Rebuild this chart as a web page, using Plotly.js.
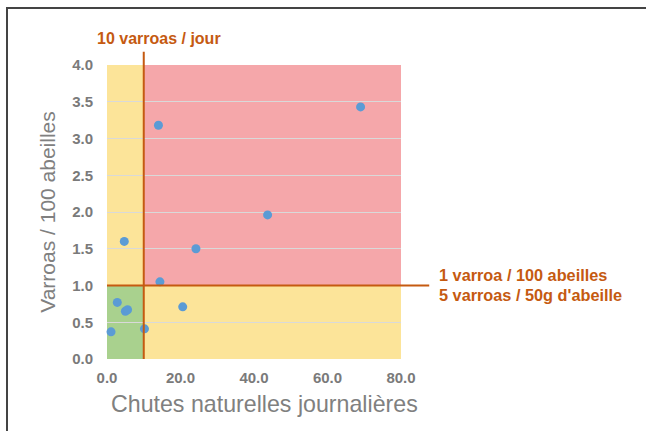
<!DOCTYPE html>
<html>
<head>
<meta charset="utf-8">
<script src="https://cdn.plot.ly/plotly-3.0.1.min.js"></script>
<style>
  html, body { margin: 0; padding: 0; background: #fff; }
  #wrap { position: relative; width: 646px; height: 431px; overflow: hidden; }
  #chart { position: absolute; left: 0; top: 0; width: 646px; height: 431px; }
  #frame { position: absolute; left: 6px; top: 7px; width: 700px; height: 500px;
           border-left: 2px solid #444; border-top: 2px solid #444; pointer-events: none; }
</style>
</head>
<body>
<div id="wrap">
  <div id="chart"></div>
  <div id="frame"></div>
</div>
<script>
// Data
const chutesJournalieres = [69.0, 14.0, 43.7, 4.7, 24.2, 14.4, 2.8, 20.6, 5.0, 5.6, 1.1, 10.2];
const varroasPour100 = [3.43, 3.18, 1.96, 1.60, 1.50, 1.05, 0.77, 0.71, 0.65, 0.67, 0.37, 0.41];

// Thresholds and axis extents
const seuilChutes = 10;      // 10 varroas / jour
const seuilVarroas = 1;      // 1 varroa / 100 abeilles
const xRange = [0, 80];
const yRange = [0, 4];

const labelSeuilX = "10 varroas / jour";
const labelSeuilY1 = "1 varroa / 100 abeilles";
const labelSeuilY2 = "5 varroas / 50g d'abeille";
const xTitle = "Chutes naturelles journalières";
const yTitle = "Varroas / 100 abeilles";

const RED = '#F5A7AA', YEL = '#FCE499', GRN = '#A9D18E', LINE = '#C55A11';

function rect(x0, x1, y0, y1, c) {
  return { type: 'rect', xref: 'x', yref: 'y', x0: x0, x1: x1, y0: y0, y1: y1,
           fillcolor: c, line: { width: 0 }, layer: 'below' };
}

const trace = {
  type: 'scatter', mode: 'markers',
  x: chutesJournalieres, y: varroasPour100,
  marker: { color: '#5B9BD5', size: 9, line: { width: 0 } },
  hoverinfo: 'x+y', cliponaxis: false
};

const tickFont = { family: 'Liberation Sans, Arial, sans-serif', size: 15, color: '#7a7a7a', weight: 'bold' };
const titleFont = { family: 'Liberation Sans, Arial, sans-serif', size: 21, color: '#808080' };
const xTitleFont = { family: 'Liberation Sans, Arial, sans-serif', size: 23.2, color: '#808080' };
const annFont = { family: 'Liberation Sans, Arial, sans-serif', size: 16, color: LINE, weight: 'bold' };
const annFont2 = { family: 'Liberation Sans, Arial, sans-serif', size: 16.3, color: LINE, weight: 'bold' };

const layout = {
  width: 646, height: 431,
  margin: { l: 107, r: 245, t: 65, b: 72 },
  paper_bgcolor: '#fff', plot_bgcolor: 'rgba(0,0,0,0)',
  showlegend: false,
  xaxis: {
    range: xRange, dtick: 20, tick0: 0, tickformat: '.1f',
    showgrid: false, zeroline: false, showline: false, ticks: '',
    tickfont: tickFont, ticklabelstandoff: 8,
    automargin: false, fixedrange: true
  },
  yaxis: {
    range: yRange, dtick: 0.5, tick0: 0, tickformat: '.1f',
    showgrid: true, gridcolor: '#D9D9D9', gridwidth: 1,
    zeroline: false, showline: false, ticks: '',
    tickfont: tickFont, ticklabelstandoff: 13,
    title: { text: yTitle, font: titleFont, standoff: 10 },
    automargin: false, fixedrange: true
  },
  shapes: [
    rect(xRange[0], seuilChutes, yRange[0], seuilVarroas, GRN),
    rect(xRange[0], seuilChutes, seuilVarroas, yRange[1], YEL),
    rect(seuilChutes, xRange[1], yRange[0], seuilVarroas, YEL),
    rect(seuilChutes, xRange[1], seuilVarroas, yRange[1], RED),
    { type: 'line', xref: 'x', yref: 'paper', x0: seuilChutes, x1: seuilChutes, y0: 0, y1: 1.045,
      line: { color: LINE, width: 2 }, layer: 'above' },
    { type: 'line', xref: 'paper', yref: 'y', x0: 0, x1: 1.096, y0: seuilVarroas, y1: seuilVarroas,
      line: { color: LINE, width: 2 }, layer: 'above' }
  ],
  annotations: [
    { xref: 'paper', yref: 'paper', x: 0.536, y: -0.152, text: xTitle, showarrow: false,
      xanchor: 'center', yanchor: 'middle', font: xTitleFont },
    { xref: 'paper', yref: 'paper', x: 0.178, y: 1.09, text: labelSeuilX, showarrow: false,
      xanchor: 'center', yanchor: 'middle', font: annFont },
    { xref: 'paper', yref: 'paper', x: 1.124, y: 0.286, text: labelSeuilY1, showarrow: false,
      xanchor: 'left', yanchor: 'middle', font: annFont2 },
    { xref: 'paper', yref: 'paper', x: 1.124, y: 0.218, text: labelSeuilY2, showarrow: false,
      xanchor: 'left', yanchor: 'middle', font: annFont2 }
  ]
};

Plotly.newPlot('chart', [trace], layout, { displayModeBar: false, staticPlot: true });
</script>
</body>
</html>
